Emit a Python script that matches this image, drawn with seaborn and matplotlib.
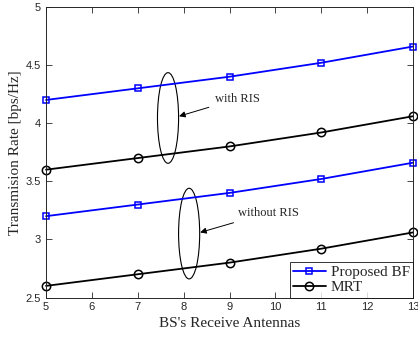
import numpy as np
import pandas as pd
import matplotlib
matplotlib.use("Agg")
import matplotlib.pyplot as plt
import seaborn as sns
from matplotlib.patches import Ellipse

# Data
antennas = [5, 7, 9, 11, 13]
bf_with_ris = [4.20, 4.30, 4.40, 4.52, 4.66]
mrt_with_ris = [3.60, 3.70, 3.80, 3.92, 4.06]
bf_without_ris = [3.20, 3.30, 3.40, 3.52, 3.66]
mrt_without_ris = [2.60, 2.70, 2.80, 2.92, 3.06]

sns.set_style("ticks", {"xtick.direction": "in", "ytick.direction": "in"})
plt.rcParams["font.family"] = ["Liberation Serif", "DejaVu Serif"]

fig = plt.figure(figsize=(4.18, 3.39), dpi=100)
ax = fig.add_axes([46 / 418, 1 - 297.5 / 339, (413 - 46) / 418, (297.5 - 7) / 339])

# Draw each series
series = [
    (bf_with_ris, "blue", "s", "Proposed BF"),
    (mrt_with_ris, "black", "o", "MRT"),
    (bf_without_ris, "blue", "s", None),
    (mrt_without_ris, "black", "o", None),
]
for vals, col, mk, lab in series:
    df = pd.DataFrame({"x": antennas, "y": vals})
    sns.lineplot(data=df, x="x", y="y", ax=ax, color=col, marker=mk,
                 markersize=6 if mk == "o" else 5, markerfacecolor="none",
                 markeredgecolor=col, markeredgewidth=1.1, linewidth=1.3,
                 label=lab, legend=False, clip_on=False)

ax.set_xlim(5, 13)
ax.set_ylim(2.5, 5)
ax.set_xticks(range(5, 14))
ax.set_yticks([2.5, 3, 3.5, 4, 4.5, 5])
ax.set_yticklabels(["2.5", "3", "3.5", "4", "4.5", "5"])
ax.tick_params(axis="both", labelsize=8, length=4, width=0.6, colors="#262626",
               top=True, right=True)
for lbl in ax.get_xticklabels() + ax.get_yticklabels():
    lbl.set_fontfamily("Liberation Sans")
for sp in ax.spines.values():
    sp.set_visible(True)
    sp.set_linewidth(0.7)
    sp.set_color("#262626")

ax.set_xlabel("BS's Receive Antennas", fontsize=11, labelpad=3, color="#262626")
ax.set_ylabel("Transmision Rate [bps/Hz]", fontsize=11, labelpad=3, color="#262626")

# Ellipses and annotations
ax.add_patch(Ellipse((7.66, 4.045), 0.46, 0.78, fill=False, edgecolor="black", lw=0.8))
ax.add_patch(Ellipse((8.12, 3.05), 0.46, 0.78, fill=False, edgecolor="black", lw=0.8))
ax.annotate("with RIS", xy=(7.9, 4.06), xytext=(8.68, 4.21), fontsize=9,
            va="center", ha="left",
            arrowprops=dict(arrowstyle="-|>", color="black", lw=0.7, shrinkA=2, shrinkB=0,
                            mutation_scale=9))
ax.annotate("without RIS", xy=(8.36, 3.06), xytext=(9.18, 3.23), fontsize=9,
            va="center", ha="left",
            arrowprops=dict(arrowstyle="-|>", color="black", lw=0.7, shrinkA=2, shrinkB=0,
                            mutation_scale=9))

leg = ax.legend(loc="lower right", fontsize=11, frameon=True, fancybox=False,
                borderaxespad=0, handlelength=2.2, borderpad=0.2,
                labelspacing=0.1, handletextpad=0.3)
leg.get_frame().set_edgecolor("black")
leg.get_frame().set_linewidth(0.7)

fig.savefig("out.png", dpi=100)
